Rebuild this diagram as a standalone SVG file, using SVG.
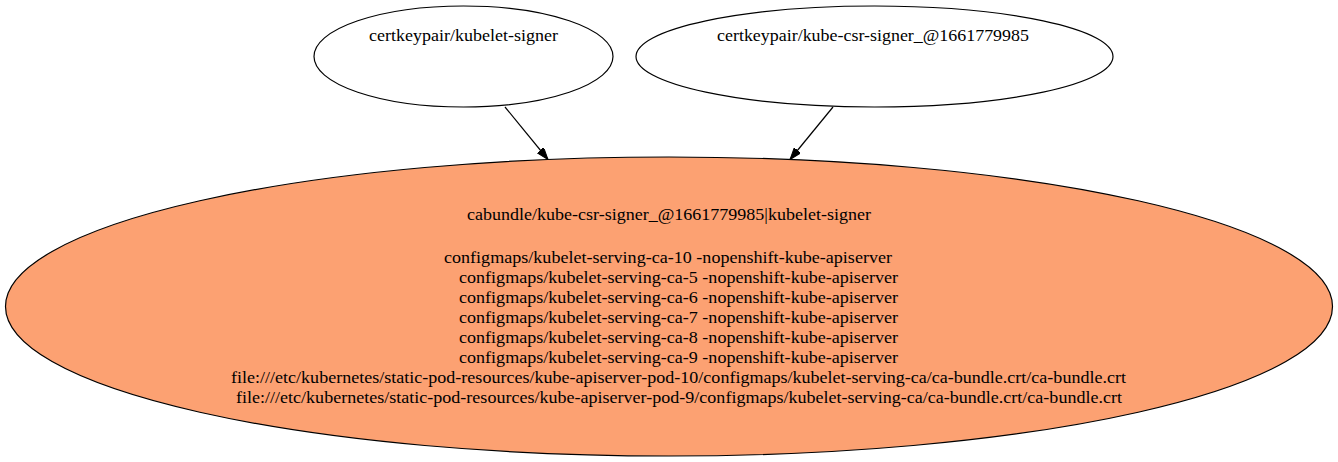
<svg xmlns="http://www.w3.org/2000/svg" width="1338" height="462" viewBox="0 0 1338 462">
<style>
.node ellipse{stroke:#000;stroke-width:1.2}
.src{fill:#fff}
.bundle{fill:#fca172}
text{font-family:"Liberation Serif","Times New Roman",serif;font-size:17px;fill:#000}
.edge{stroke:#000;stroke-width:1.2;fill:none}
</style>
<defs>
<marker id="arr" markerUnits="userSpaceOnUse" markerWidth="12" markerHeight="9" refX="12" refY="4.2" orient="auto">
<path d="M0,0 L12,4.2 L0,8.4 Z" fill="#000" stroke="#000" stroke-width="1"/>
</marker>
</defs>
<rect width="1338" height="462" fill="#fff"/>
<g id="connectors">
<line class="edge" x1="505" y1="107" x2="548" y2="159.5" marker-end="url(#arr)"/>
<line class="edge" x1="833" y1="107" x2="790" y2="159.5" marker-end="url(#arr)"/>
</g>
<g id="node-kubelet-signer" class="node">
<ellipse class="src" cx="463.5" cy="56.5" rx="149.5" ry="50.5"/>
<text x="369" y="41" textLength="189" lengthAdjust="spacingAndGlyphs">certkeypair/kubelet-signer</text>
</g>
<g id="node-kube-csr-signer" class="node">
<ellipse class="src" cx="874.5" cy="56.5" rx="238.5" ry="50.5"/>
<text x="717" y="41" textLength="312" lengthAdjust="spacingAndGlyphs">certkeypair/kube-csr-signer_@1661779985</text>
</g>
<g id="node-cabundle" class="node">
<ellipse class="bundle" cx="669" cy="306.5" rx="663.5" ry="149.5"/>
<text x="467" y="220" textLength="404" lengthAdjust="spacingAndGlyphs">cabundle/kube-csr-signer_@1661779985|kubelet-signer</text>
<text x="444" y="263" textLength="448" lengthAdjust="spacingAndGlyphs">configmaps/kubelet-serving-ca-10 -nopenshift-kube-apiserver</text>
<text x="459" y="283" textLength="439" lengthAdjust="spacingAndGlyphs">configmaps/kubelet-serving-ca-5 -nopenshift-kube-apiserver</text>
<text x="459" y="303" textLength="439" lengthAdjust="spacingAndGlyphs">configmaps/kubelet-serving-ca-6 -nopenshift-kube-apiserver</text>
<text x="459" y="323" textLength="439" lengthAdjust="spacingAndGlyphs">configmaps/kubelet-serving-ca-7 -nopenshift-kube-apiserver</text>
<text x="459" y="343" textLength="439" lengthAdjust="spacingAndGlyphs">configmaps/kubelet-serving-ca-8 -nopenshift-kube-apiserver</text>
<text x="459" y="363" textLength="439" lengthAdjust="spacingAndGlyphs">configmaps/kubelet-serving-ca-9 -nopenshift-kube-apiserver</text>
<text x="231" y="383" textLength="895" lengthAdjust="spacingAndGlyphs">file:///etc/kubernetes/static-pod-resources/kube-apiserver-pod-10/configmaps/kubelet-serving-ca/ca-bundle.crt/ca-bundle.crt</text>
<text x="236" y="403" textLength="886" lengthAdjust="spacingAndGlyphs">file:///etc/kubernetes/static-pod-resources/kube-apiserver-pod-9/configmaps/kubelet-serving-ca/ca-bundle.crt/ca-bundle.crt</text>
</g>
</svg>
